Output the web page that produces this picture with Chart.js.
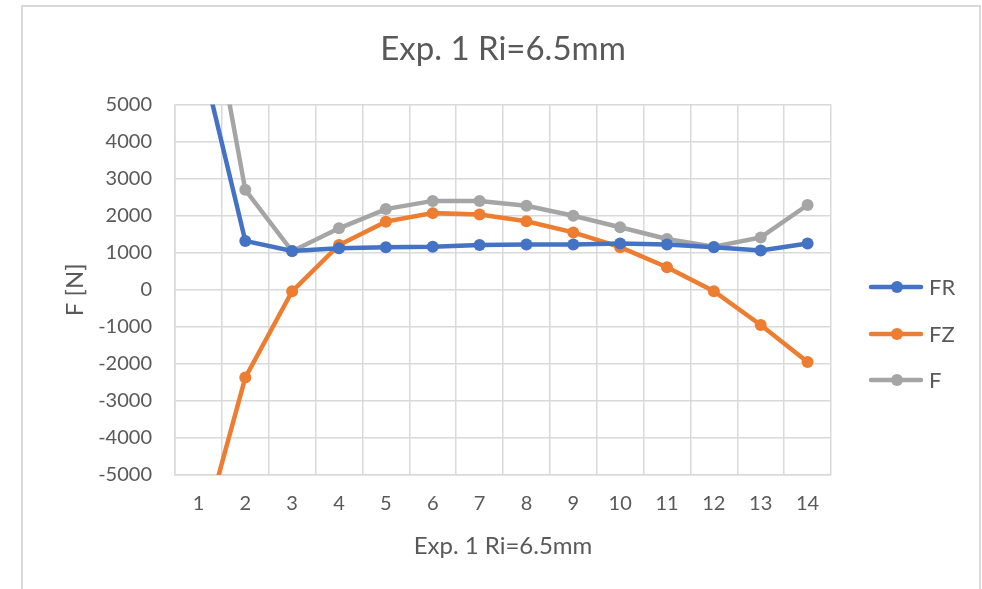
<!DOCTYPE html>
<html lang="en">
<head>
  <meta charset="UTF-8">
  <title>Exp. 1 Ri=6.5mm</title>
  <script src="https://cdn.jsdelivr.net/npm/chart.js"></script>
  <style>
    body {
      margin: 0;
      background: #ffffff;
      font-family: Lato, sans-serif;
    }
    .frame {
      position: absolute;
      left: 21px;
      top: 5px;
      width: 956px;
      height: 600px;
      border: 2px solid #d9d9d9;
    }
    .wrap {
      position: absolute;
      left: 0;
      top: 0;
      width: 982px;
      height: 589px;
    }
  </style>
</head>
<body>
  <div class="frame"></div>
  <div class="wrap"><canvas id="chart" width="982" height="589"></canvas></div>

  <script>
    const labels = ['1', '2', '3', '4', '5', '6', '7', '8', '9', '10', '11', '12', '13', '14'];
    const frValues = [6600, 1320, 1050, 1120, 1150, 1165, 1210, 1220, 1225, 1250, 1220, 1150, 1060, 1250];
    const fzValues = [-7000, -2370, -40, 1210, 1840, 2070, 2030, 1850, 1550, 1150, 610, -40, -950, -1950];
    const fValues = [9600, 2700, 1040, 1660, 2180, 2400, 2400, 2270, 2000, 1690, 1370, 1165, 1415, 2290];
    const yTicks = [-5000, -4000, -3000, -2000, -1000, 0, 1000, 2000, 3000, 4000, 5000];

    const textColor = '#595959';
    const gridColor = '#d9d9d9';

    // legend drawn as line + dot like Excel
    const lineLegend = {
      id: 'lineLegend',
      afterDraw(chart) {
        const ctx = chart.ctx;
        const rows = [287, 334, 380];
        ctx.save();
        chart.data.datasets.forEach((ds, i) => {
          const y = rows[i];
          ctx.strokeStyle = ds.borderColor;
          ctx.lineWidth = 4.5;
          ctx.lineCap = 'round';
          ctx.beginPath();
          ctx.moveTo(871, y);
          ctx.lineTo(921, y);
          ctx.stroke();
          ctx.fillStyle = ds.borderColor;
          ctx.beginPath();
          ctx.arc(897, y, 6, 0, Math.PI * 2);
          ctx.fill();
          ctx.fillStyle = textColor;
          ctx.font = '22px Lato';
          ctx.textBaseline = 'middle';
          ctx.fillText(ds.label, 929, y + 1);
        });
        ctx.restore();
      }
    };

    function series(label, data, color) {
      return {
        label: label,
        data: data,
        borderColor: color,
        backgroundColor: color,
        borderWidth: 4.5,
        pointRadius: 6,
        pointHoverRadius: 6,
        pointBorderWidth: 0,
        tension: 0
      };
    }

    new Chart(document.getElementById('chart'), {
      type: 'line',
      data: {
        labels: labels,
        datasets: [
          series('FR', frValues, '#4472c4'),
          series('FZ', fzValues, '#ed7d31'),
          series('F', fValues, '#a5a5a5')
        ]
      },
      options: {
        responsive: false,
        animation: false,
        layout: {
          padding: { left: 61, right: 151, top: 10, bottom: 28 }
        },
        plugins: {
          legend: { display: false },
          tooltip: { enabled: false },
          title: {
            display: true,
            fullSize: false,
            text: 'Exp. 1 Ri=6.5mm',
            color: textColor,
            font: { family: 'Lato', size: 33, weight: 'normal' },
            padding: { top: 20, bottom: 35 }
          }
        },
        scales: {
          x: {
            offset: true,
            grid: { offset: true, color: gridColor, lineWidth: 1.5, drawTicks: false },
            border: { color: gridColor, width: 1.5 },
            ticks: { color: textColor, font: { family: 'Lato', size: 20 }, padding: 17, maxRotation: 0 },
            title: {
              display: true,
              text: 'Exp. 1 Ri=6.5mm',
              color: textColor,
              font: { family: 'Lato', size: 24 },
              padding: { top: 0, bottom: 0 }
            },
            afterFit(scale) { scale.height = 86; }
          },
          y: {
            min: -5000,
            max: 5000,
            afterBuildTicks(scale) { scale.ticks = yTicks.map(v => ({ value: v })); },
            grid: { color: gridColor, lineWidth: 1.5, drawTicks: false },
            border: { color: gridColor, width: 1.5 },
            ticks: {
              color: textColor,
              font: { family: 'Lato', size: 20 },
              padding: 23,
              callback: v => String(v)
            },
            title: {
              display: true,
              text: 'F [N]',
              color: textColor,
              font: { family: 'Lato', size: 24 },
              padding: { top: 0, bottom: 0 }
            },
            afterFit(scale) { scale.width = 114; }
          }
        }
      },
      plugins: [lineLegend]
    });
  </script>
</body>
</html>
